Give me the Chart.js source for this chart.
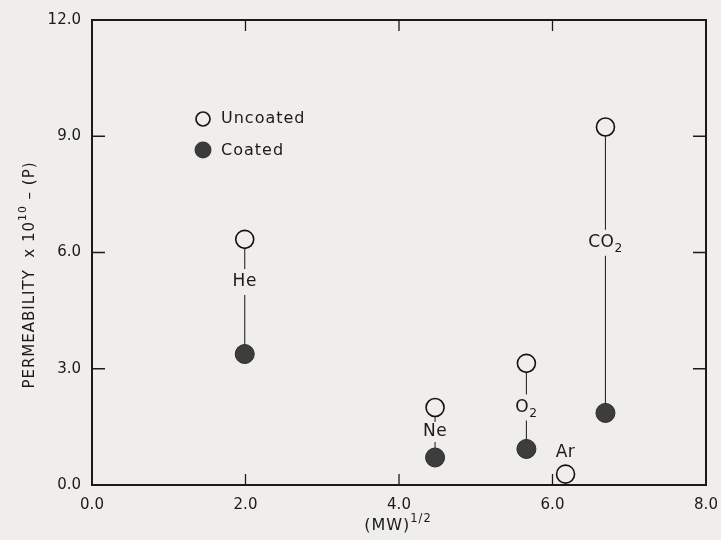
<!DOCTYPE html>
<html>
<head>
<meta charset="utf-8">
<script src="https://cdn.jsdelivr.net/npm/chart.js@4.4.1/dist/chart.umd.min.js"></script>
<style>
  html, body { margin: 0; padding: 0; background: #efeeeb; }
  #wrap { width: 721px; height: 540px; }
</style>
</head>
<body>
<div id="wrap"><canvas id="myChart" width="721" height="540"></canvas></div>
<script>
// gases, (MW)^1/2 and permeability x 1e10
var gases = ['He', 'Ne', 'O2', 'Ar', 'CO2'];
var sqrtMW = [1.99, 4.47, 5.66, 6.17, 6.69];
var uncoated = [6.34, 2.0, 3.14, 0.28, 9.24];
var coated = [3.38, 0.71, 0.93, null, 1.86];
// where the gas name sits along the permeability axis
var labelAt = [5.24, 1.37, 2.0, 0.83, 6.25];

var xTickLabels = ['0.0', '2.0', '4.0', '6.0', '8.0'];
var yTickLabels = ['0.0', '3.0', '6.0', '9.0', '12.0'];

var FONT = '"DejaVu Sans", "Liberation Sans", sans-serif';
var INK = '#1a1a1a';

function pts(ys) {
    var out = [];
    for (var i = 0; i < gases.length; i++) {
        if (ys[i] !== null) out.push({ x: sqrtMW[i], y: ys[i] });
    }
    return out;
}

// text with a sub- or superscript part, centred on x
function richText(ctx, parts, x, y, size) {
    var w = 0;
    for (var i = 0; i < parts.length; i++) {
        ctx.font = (parts[i].small ? size * 0.72 : size) + 'px ' + FONT;
        parts[i].w = ctx.measureText(parts[i].t).width;
        w += parts[i].w;
    }
    var cx = x - w / 2;
    for (var i = 0; i < parts.length; i++) {
        ctx.font = (parts[i].small ? size * 0.72 : size) + 'px ' + FONT;
        ctx.fillText(parts[i].t, cx, y + (parts[i].dy || 0));
        cx += parts[i].w;
    }
}

function gasParts(name) {
    var m = name.match(/^([A-Za-z]+?)(\d*)$/);
    var parts = [{ t: m[1] }];
    if (m[2]) parts.push({ t: m[2], small: true, dy: 6 });
    return parts;
}

var framePlugin = {
    id: 'frame',
    beforeDatasetsDraw: function (chart) {
        var ctx = chart.ctx;
        var xs = chart.scales.x, ys = chart.scales.y;
        var a = chart.chartArea;
        ctx.save();
        // frame
        ctx.strokeStyle = INK;
        ctx.lineWidth = 2;
        ctx.strokeRect(a.left, a.top, a.right - a.left, a.bottom - a.top);
        // inward ticks
        ctx.lineWidth = 1.3;
        ctx.beginPath();
        for (var v = 2; v < 8; v += 2) {
            var px = xs.getPixelForValue(v);
            ctx.moveTo(px, a.bottom); ctx.lineTo(px, a.bottom - 11);
            ctx.moveTo(px, a.top); ctx.lineTo(px, a.top + 11);
        }
        for (var v = 3; v < 12; v += 3) {
            var py = ys.getPixelForValue(v);
            ctx.moveTo(a.left, py); ctx.lineTo(a.left + 13, py);
            ctx.moveTo(a.right, py); ctx.lineTo(a.right - 13, py);
        }
        ctx.stroke();

        // connecting lines uncoated -> coated, broken around the gas name
        ctx.lineWidth = 1.1;
        ctx.strokeStyle = '#2a2a2a';
        ctx.beginPath();
        for (var i = 0; i < gases.length; i++) {
            if (coated[i] === null) continue;
            var px = xs.getPixelForValue(sqrtMW[i]);
            var top = ys.getPixelForValue(uncoated[i]) + 9;
            var bot = ys.getPixelForValue(coated[i]) - 9;
            var lab = ys.getPixelForValue(labelAt[i]);
            var gap = (top > lab - 16) ? 10 : 13;
            ctx.moveTo(px, top); ctx.lineTo(px, lab - gap);
            ctx.moveTo(px, lab + gap); ctx.lineTo(px, bot);
        }
        ctx.stroke();
        ctx.restore();
    },
    afterDatasetsDraw: function (chart) {
        var ctx = chart.ctx;
        var xs = chart.scales.x, ys = chart.scales.y;
        ctx.save();
        ctx.fillStyle = INK;
        ctx.textBaseline = 'middle';
        ctx.letterSpacing = '0.5px';

        // gas names
        for (var i = 0; i < gases.length; i++) {
            richText(ctx, gasParts(gases[i]), xs.getPixelForValue(sqrtMW[i]),
                ys.getPixelForValue(labelAt[i]), 17);
        }

        // legend
        ctx.lineWidth = 1.7;
        ctx.strokeStyle = INK;
        ctx.beginPath();
        ctx.arc(203, 119, 7, 0, Math.PI * 2);
        ctx.stroke();
        ctx.fillStyle = '#3b3b3b';
        ctx.beginPath();
        ctx.arc(203, 150, 8.5, 0, Math.PI * 2);
        ctx.fill();
        ctx.fillStyle = INK;
        ctx.font = '16px ' + FONT;
        ctx.letterSpacing = '1px';
        ctx.textAlign = 'left';
        ctx.fillText('Uncoated', 221, 119);
        ctx.fillText('Coated', 221, 151);

        // x title
        ctx.textBaseline = 'alphabetic';
        richText(ctx, [{ t: '(MW)' }, { t: '1/2', small: true, dy: -8 }], 398, 530, 16);

        // y title
        ctx.translate(30, 275);
        ctx.rotate(-Math.PI / 2);
        ctx.textBaseline = 'middle';
        richText(ctx, [
            { t: 'PERMEABILITY  x 10' },
            { t: '10', small: true, dy: -7 },
            { t: ' \u2013 (P)' }
        ], 0, 0, 15);
        ctx.restore();
    }
};

var config = {
    type: 'scatter',
    data: {
        datasets: [
            {
                label: 'Uncoated',
                data: pts(uncoated),
                pointRadius: 9,
                pointBorderWidth: 1.6,
                pointBackgroundColor: '#efeeeb',
                pointBorderColor: '#111',
                showLine: false
            },
            {
                label: 'Coated',
                data: pts(coated),
                pointRadius: 9.5,
                pointBorderWidth: 1,
                pointBackgroundColor: '#3d3d3d',
                pointBorderColor: '#2a2a2a',
                showLine: false
            }
        ]
    },
    options: {
        responsive: false,
        animation: false,
        layout: { padding: { top: 20, right: 15, left: 0, bottom: 0 } },
        plugins: {
            legend: { display: false },
            tooltip: { enabled: false },
            title: { display: false }
        },
        scales: {
            x: {
                type: 'linear',
                min: 0, max: 8,
                grid: { display: false, drawTicks: false },
                border: { display: false },
                afterFit: function (s) {
                    s.height = 55;
                    s.paddingLeft = 0;
                    s.paddingRight = 0;
                },
                ticks: {
                    stepSize: 2,
                    padding: 11,
                    color: INK,
                    font: { family: FONT, size: 15 },
                    callback: function (v) { return xTickLabels[v / 2]; }
                }
            },
            y: {
                type: 'linear',
                min: 0, max: 12,
                grid: { display: false, drawTicks: false },
                border: { display: false },
                afterFit: function (s) {
                    s.width = 92;
                    s.paddingTop = 0;
                    s.paddingBottom = 0;
                },
                ticks: {
                    stepSize: 3,
                    padding: 11,
                    color: INK,
                    font: { family: FONT, size: 15 },
                    callback: function (v) { return yTickLabels[v / 3]; }
                }
            }
        }
    },
    plugins: [framePlugin]
};

var myChart = new Chart(document.getElementById('myChart'), config);
</script>
</body>
</html>
